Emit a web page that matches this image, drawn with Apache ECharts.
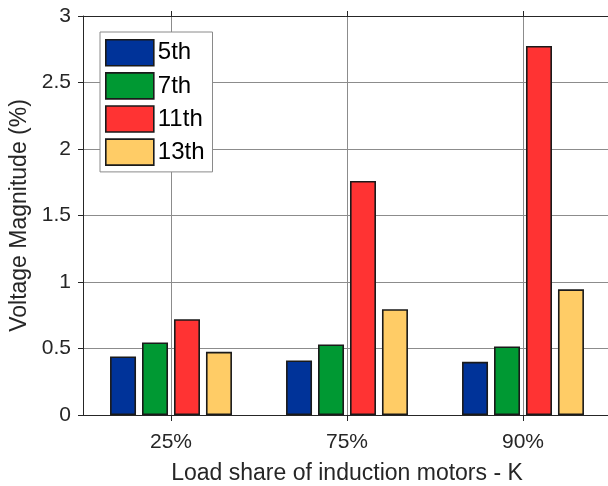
<!DOCTYPE html>
<html>
<head>
<meta charset="utf-8">
<script src="https://cdn.jsdelivr.net/npm/echarts@6/dist/echarts.min.js"></script>
<style>
  html, body { margin: 0; padding: 0; background: #fff; }
  #chart { width: 608px; height: 486px; }
</style>
</head>
<body>
<div id="chart"></div>
<script>
// Harmonic voltage magnitudes per load share of induction motors
const categories = ['25%', '75%', '90%'];
const harmonicNames = ['5th', '7th', '11th', '13th'];
const h5 = [0.44, 0.41, 0.40];
const h7 = [0.545, 0.53, 0.515];
const h11 = [0.72, 1.76, 2.775];
const h13 = [0.475, 0.795, 0.945];
const yTicks = [0, 0.5, 1, 1.5, 2, 2.5, 3];

const seriesValues = [h5, h7, h11, h13];
const colors = ['#003399', '#009933', '#FF3333', '#FFCC66'];

const FONT = '"Liberation Sans", Arial, Helvetica, sans-serif';
const AXIS_COLOR = '#262626';
const GRID_COLOR = '#8c8c8c';

// Top axis: half-step positions so ticks / vertical grid sit on category centres
const topAxisData = [''];
categories.forEach(c => { topAxisData.push(c, ''); });
const atCentre = (i) => i % 2 === 1;

const chart = echarts.init(document.getElementById('chart'), null, { renderer: 'canvas' });

chart.setOption({
  backgroundColor: '#ffffff',
  animation: false,
  textStyle: { fontFamily: FONT },
  grid: {
    left: 83, top: 16, width: 528, height: 399,
    containLabel: false,
    outerBoundsMode: 'none'
  },
  legend: {
    data: harmonicNames,
    orient: 'vertical',
    left: 100,
    top: 32,
    padding: [7, 8, 6, 5],
    itemWidth: 48,
    itemHeight: 26,
    itemGap: 5.5,
    icon: 'rect',
    backgroundColor: '#ffffff',
    borderColor: '#8a8a8a',
    borderWidth: 1,
    borderRadius: 0,
    itemStyle: { borderColor: '#1a1a1a', borderWidth: 1.6 },
    textStyle: { fontFamily: FONT, fontSize: 24, lineHeight: 26, color: '#000', padding: [0, 0, 0, -1] }
  },
  xAxis: [
    {
      type: 'category',
      data: categories,
      position: 'bottom',
      name: 'Load share of induction motors - K',
      nameLocation: 'middle',
      nameGap: 47,
      nameTextStyle: { fontFamily: FONT, fontSize: 23, color: AXIS_COLOR },
      axisLine: { show: true, lineStyle: { color: AXIS_COLOR, width: 1 } },
      axisTick: { show: true, alignWithLabel: true, inside: false, length: 6, lineStyle: { color: AXIS_COLOR } },
      axisLabel: { fontFamily: FONT, fontSize: 21, color: AXIS_COLOR, margin: 17 },
      splitLine: { show: false }
    },
    {
      type: 'category',
      data: topAxisData,
      position: 'top',
      boundaryGap: false,
      axisLine: { show: true, lineStyle: { color: AXIS_COLOR, width: 1 } },
      axisTick: { show: true, inside: false, length: 5, interval: atCentre, lineStyle: { color: AXIS_COLOR } },
      axisLabel: { show: false },
      splitLine: { show: true, interval: atCentre, lineStyle: { color: GRID_COLOR, width: 1 } }
    }
  ],
  yAxis: {
    type: 'value',
    min: yTicks[0],
    max: yTicks[yTicks.length - 1],
    interval: yTicks[1] - yTicks[0],
    name: 'Voltage Magnitude (%)',
    nameLocation: 'middle',
    nameGap: 44,
    nameTextStyle: { fontFamily: FONT, fontSize: 23, color: AXIS_COLOR },
    axisLine: { show: true, lineStyle: { color: AXIS_COLOR, width: 1 } },
    axisTick: { show: true, inside: false, length: 5, lineStyle: { color: AXIS_COLOR } },
    axisLabel: { fontFamily: FONT, fontSize: 21, color: AXIS_COLOR, margin: 12 },
    splitLine: { show: true, lineStyle: { color: GRID_COLOR, width: 1 } }
  },
  series: harmonicNames.map((name, i) => ({
    name: name,
    type: 'bar',
    xAxisIndex: 0,
    data: seriesValues[i],
    barWidth: 26,
    barGap: '23%',
    itemStyle: { color: colors[i], borderColor: '#1a1a1a', borderWidth: 1.6 },
    emphasis: { disabled: true }
  }))
});
</script>
</body>
</html>
